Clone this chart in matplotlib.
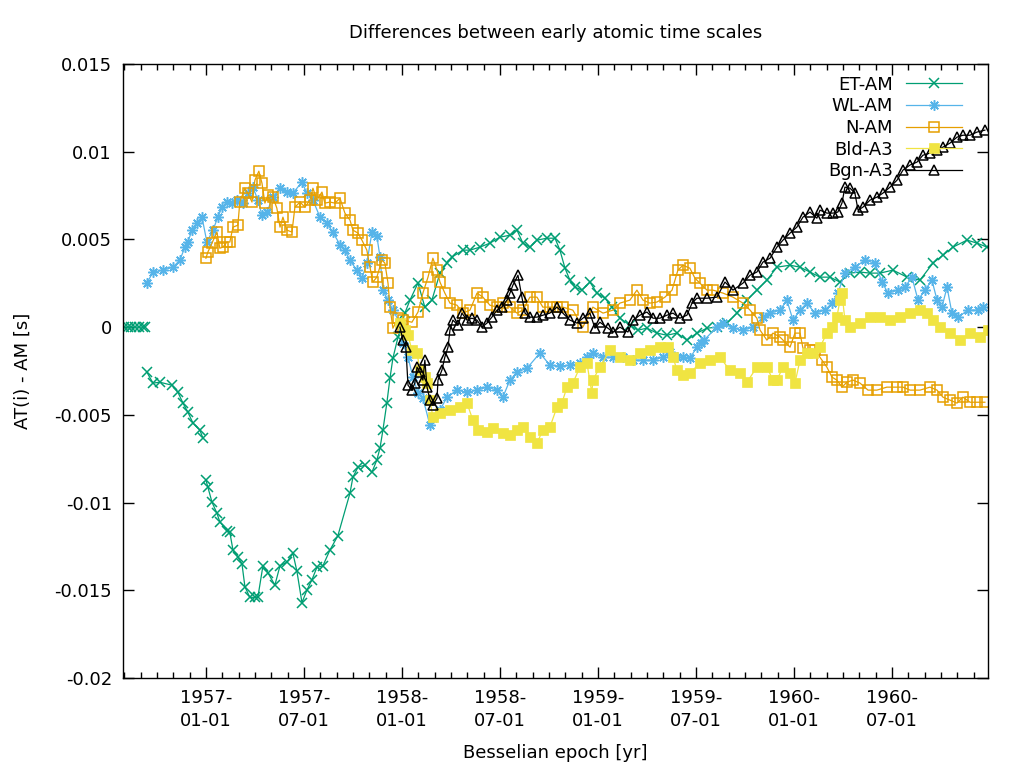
import numpy as np
import matplotlib
matplotlib.use("Agg")
import matplotlib.pyplot as plt
from matplotlib.ticker import MultipleLocator, FixedLocator

nan = np.nan

# ET-AM (gaps marked with nan)
et_year = [1956.58, 1956.60, 1956.62, 1956.64, 1956.66, 1956.68, 1956.69, nan,
           1956.699, 1956.730, 1956.765, 1956.827, 1956.857, 1956.883, 1956.908, 1956.934, 1956.969, 1956.985, nan,
           1957.000, 1957.010, 1957.031, 1957.056, 1957.071, 1957.107, 1957.122, 1957.138, 1957.163, 1957.184,
           1957.199, 1957.224, 1957.250, 1957.265, 1957.291, 1957.316, 1957.352, 1957.378, 1957.413, 1957.444,
           1957.464, 1957.490, 1957.515, 1957.541, 1957.566, 1957.597, 1957.633, 1957.673, 1957.735, 1957.750,
           1957.776, 1957.811, 1957.847, 1957.872, 1957.888, 1957.903, 1957.923, 1957.939, 1957.954, 1957.980,
           1958.015, 1958.041, 1958.082, 1958.117, 1958.153, 1958.194, 1958.230, 1958.255, 1958.311, 1958.347,
           1958.398, 1958.449, 1958.500, 1958.551, 1958.587, 1958.617, 1958.653, 1958.689, 1958.740, 1958.781,
           1958.806, 1958.832, 1958.857, 1958.883, 1958.918, 1958.959, 1958.995, 1959.036, 1959.071, 1959.112,
           1959.163, 1959.204, 1959.250, 1959.301, 1959.352, 1959.403, 1959.454, 1959.505, 1959.556, 1959.607,
           1959.658, 1959.709, 1959.760, 1959.811, 1959.862, 1959.913, 1959.980, 1960.031, 1960.082, 1960.133,
           1960.184, 1960.235, 1960.286, 1960.337, 1960.388, 1960.439, 1960.505, 1960.577, 1960.643, 1960.709,
           1960.760, 1960.811, 1960.883, 1960.934, 1960.985]
et_val = [0.0, 0.0, 0.0, 0.0, 0.0, 0.0, 0.0, nan,
          -0.00257, -0.00319, -0.00314, -0.00331, -0.00371, -0.00433, -0.00485, -0.00547, -0.00587, -0.00633, nan,
          -0.00872, -0.00912, -0.00998, -0.0106, -0.0111, -0.0116, -0.0117, -0.0127, -0.0131, -0.0135,
          -0.0148, -0.0154, -0.0154, -0.0154, -0.0136, -0.0140, -0.0147, -0.0136, -0.0134, -0.0129,
          -0.0139, -0.0157, -0.0150, -0.0144, -0.0137, -0.0136, -0.0127, -0.0119, -0.00946, -0.00855,
          -0.00798, -0.00787, -0.00827, -0.00758, -0.00690, -0.00587, -0.00433, -0.00291, -0.00177, -0.00057,
          0.00080, 0.00154, 0.00251, 0.00114, 0.00154, 0.00308, 0.00365, 0.00399, 0.00439, 0.00439,
          0.00456, 0.00479, 0.00513, 0.00524, 0.00553, 0.00479, 0.00456, 0.00496, 0.00507, 0.00507,
          0.00439, 0.00336, 0.00268, 0.00228, 0.00211, 0.00257, 0.00194, 0.00165, 0.00114, 0.00051,
          0.00011, -0.00017, -0.00006, -0.00034, -0.00046, -0.00034, -0.00074, -0.00034, -0.00006, 0.0,
          0.00023, 0.00080, 0.00154, 0.00211, 0.00268, 0.00342, 0.00353, 0.00342, 0.00314, 0.00285,
          0.00285, 0.00257, 0.00308, 0.00314, 0.00308, 0.00308, 0.00325, 0.00285, 0.00268, 0.00365,
          0.00410, 0.00456, 0.00496, 0.00479, 0.00456]

# WL-AM
wl_year = [1956.699, 1956.730, 1956.781, 1956.832, 1956.867, 1956.893, 1956.908, 1956.929, 1956.954, 1956.980,
           1957.005, 1957.036, 1957.061, 1957.082, 1957.107, 1957.133, 1957.158, 1957.189, 1957.214, 1957.240,
           1957.265, 1957.286, 1957.311, 1957.342, 1957.378, 1957.413, 1957.444, 1957.490, 1957.515, 1957.546,
           1957.582, 1957.617, 1957.648, 1957.684, 1957.709, 1957.735, 1957.770, 1957.796, 1957.821, 1957.847,
           1957.872, 1957.888, 1957.903, 1957.929, 1957.954, 1957.990, 1958.005, 1958.031, 1958.056, 1958.082,
           1958.107, 1958.143, 1958.158, 1958.194, 1958.230, 1958.281, 1958.332, 1958.383, 1958.434, 1958.485,
           1958.515, 1958.551, 1958.587, 1958.638, 1958.704, 1958.755, 1958.806, 1958.857, 1958.908, 1958.944,
           1958.974, 1959.026, 1959.077, 1959.128, 1959.179, 1959.230, 1959.281, 1959.332, 1959.367, 1959.403,
           1959.434, 1959.469, 1959.505, 1959.526, 1959.541, 1959.607, 1959.638, 1959.689, 1959.740, 1959.791,
           1959.842, 1959.878, 1959.929, 1959.964, 1959.995, 1960.031, 1960.066, 1960.107, 1960.158, 1960.194,
           1960.224, 1960.260, 1960.311, 1960.362, 1960.413, 1960.449, 1960.480, 1960.531, 1960.566, 1960.602,
           1960.633, 1960.668, 1960.704, 1960.730, 1960.755, 1960.781, 1960.806, 1960.837, 1960.888, 1960.939,
           1960.964]
wl_val = [0.00251, 0.00314, 0.00325, 0.00342, 0.00382, 0.00456, 0.00485, 0.00553, 0.00593, 0.00627,
          0.00485, 0.00553, 0.00627, 0.00684, 0.00713, 0.00707, 0.00724, 0.00707, 0.00764, 0.00798,
          0.00724, 0.00638, 0.00656, 0.00741, 0.00792, 0.00770, 0.00764, 0.00827, 0.00764, 0.00724,
          0.00627, 0.00593, 0.0054, 0.0047, 0.0044, 0.0038, 0.00325, 0.0028, 0.00365, 0.0054,
          0.0052, 0.0040, 0.0021, 0.00154, 0.00097, 0.00023, -0.00091, -0.00171, -0.00285, -0.00376,
          -0.00405, -0.00559, -0.0052, -0.00473, -0.00399, -0.00359, -0.00371, -0.00359, -0.00342, -0.00359,
          -0.00399, -0.00302, -0.00257, -0.00234, -0.00148, -0.00217, -0.00222, -0.00217, -0.00205, -0.00171,
          -0.00148, -0.00171, -0.00171, -0.00171, -0.00188, -0.00188, -0.00188, -0.00171, -0.00143, -0.00171,
          -0.00171, -0.00177, -0.00114, -0.00091, -0.00074, 0.0, 0.00023, -0.00006, -0.00017, 0.0,
          0.00057, 0.0008, 0.00097, 0.00154, 0.0004, 0.00097, 0.00137, 0.0008, 0.00097, 0.00137,
          0.00194, 0.00308, 0.00342, 0.00382, 0.00365, 0.00257, 0.00194, 0.00211, 0.00228, 0.00285,
          0.00154, 0.00211, 0.00268, 0.00154, 0.00114, 0.00228, 0.0008, 0.00057, 0.00097, 0.00097,
          0.00114]

# N-AM
n_year = [1957.000, 1957.010, 1957.031, 1957.056, 1957.071, 1957.087, 1957.107, 1957.122, 1957.138, 1957.163,
          1957.173, 1957.199, 1957.214, 1957.235, 1957.250, 1957.270, 1957.286, 1957.301, 1957.316, 1957.342,
          1957.362, 1957.378, 1957.393, 1957.413, 1957.439, 1957.454, 1957.480, 1957.505, 1957.531, 1957.546,
          1957.566, 1957.592, 1957.607, 1957.633, 1957.658, 1957.684, 1957.709, 1957.735, 1957.750, 1957.776,
          1957.796, 1957.821, 1957.837, 1957.852, 1957.872, 1957.898, 1957.913, 1957.929, 1957.939, 1957.954,
          1957.980, 1958.005, 1958.051, 1958.082, 1958.107, 1958.133, 1958.158, 1958.179, 1958.194, 1958.219,
          1958.245, 1958.281, 1958.311, 1958.347, 1958.383, 1958.413, 1958.449, 1958.485, 1958.515, 1958.551,
          1958.587, 1958.617, 1958.653, 1958.689, 1958.719, 1958.755, 1958.791, 1958.821, 1958.872, 1958.923,
          1958.974, 1959.026, 1959.077, 1959.112, 1959.163, 1959.199, 1959.230, 1959.265, 1959.301, 1959.342,
          1959.378, 1959.393, 1959.408, 1959.434, 1959.469, 1959.495, 1959.520, 1959.556, 1959.587, 1959.638,
          1959.689, 1959.740, 1959.776, 1959.811, 1959.827, 1959.862, 1959.893, 1959.929, 1959.944, 1959.980,
          1960.005, 1960.031, 1960.046, 1960.082, 1960.107, 1960.143, 1960.168, 1960.194, 1960.219, 1960.245,
          1960.270, 1960.301, 1960.337, 1960.378, 1960.423, 1960.474, 1960.526, 1960.556, 1960.592, 1960.643,
          1960.694, 1960.730, 1960.760, 1960.796, 1960.832, 1960.862, 1960.898, 1960.934, 1960.974]
n_val = [0.00393, 0.00428, 0.00479, 0.00542, 0.0045, 0.00456, 0.00485, 0.00485, 0.0057, 0.00581,
         0.00713, 0.00792, 0.00764, 0.00713, 0.00838, 0.00889, 0.00821, 0.00707, 0.00752, 0.00741,
         0.00678, 0.0057, 0.00627, 0.00553, 0.00542, 0.00684, 0.00713, 0.00684, 0.00724, 0.00792,
         0.00724, 0.0077, 0.00707, 0.00713, 0.00707, 0.00735, 0.0065, 0.0061, 0.00553, 0.00536,
         0.00496, 0.00439, 0.00342, 0.00257, 0.00285, 0.00382, 0.00365, 0.00251, 0.00114, -0.00006,
         0.00051, 0.0004, 0.00028, 0.00086, 0.00194, 0.00285, 0.00393, 0.00325, 0.00257, 0.00194,
         0.00137, 0.00125, 0.0008, 0.00097, 0.00194, 0.00171, 0.00125, 0.00114, 0.00137, 0.00114,
         0.0008, 0.00097, 0.00171, 0.00171, 0.00114, 0.00114, 0.00114, 0.00114, 0.00097, 0.0,
         0.00114, 0.0008, 0.00097, 0.00137, 0.00154, 0.00211, 0.00154, 0.00137, 0.00143, 0.00171,
         0.00211, 0.00268, 0.00325, 0.00353, 0.00336, 0.00279, 0.00251, 0.00211, 0.00211, 0.00194,
         0.00171, 0.00137, 0.00097, 0.00051, -0.00017, -0.00074, -0.00034, -0.00057, -0.00074, -0.00114,
         -0.00034, -0.00034, -0.0012, -0.00131, -0.00131, -0.00188, -0.00228, -0.00285, -0.00302, -0.00342,
         -0.00314, -0.00302, -0.00319, -0.00359, -0.00359, -0.00342, -0.00342, -0.00342, -0.00359, -0.00359,
         -0.00342, -0.00359, -0.00399, -0.00416, -0.00433, -0.00399, -0.00428, -0.00428, -0.00428]

# Bld-A3
bld_year = [1957.990, 1958.015, 1958.031, 1958.051, 1958.077, 1958.092, 1958.117, 1958.128, 1958.143, 1958.158,
            1958.194, 1958.245, 1958.296, 1958.332, 1958.362, 1958.388, 1958.434, 1958.464, 1958.515, 1958.551,
            1958.587, 1958.617, 1958.653, 1958.689, 1958.719, 1958.755, 1958.791, 1958.816, 1958.842, 1958.872,
            1958.908, 1958.944, 1958.969, 1958.974, 1959.010, 1959.061, 1959.112, 1959.163, 1959.214, 1959.265,
            1959.316, 1959.357, 1959.383, 1959.403, 1959.434, 1959.469, 1959.520, 1959.571, 1959.622, 1959.673,
            1959.724, 1959.760, 1959.811, 1959.862, 1959.893, 1959.913, 1959.944, 1959.980, 1960.005, 1960.031,
            1960.066, 1960.097, 1960.133, 1960.168, 1960.194, 1960.219, 1960.235, 1960.245, 1960.260, 1960.286,
            1960.337, 1960.388, 1960.439, 1960.490, 1960.541, 1960.592, 1960.643, 1960.679, 1960.709, 1960.745,
            1960.796, 1960.847, 1960.898, 1960.949, 1960.990]
bld_val = [0.00023, -0.00017, -0.00046, -0.00131, -0.00148, -0.00245, -0.00285, -0.00319, -0.00416, -0.00513,
           -0.0049, -0.00473, -0.00456, -0.00433, -0.0053, -0.00587, -0.00599, -0.00576, -0.00604, -0.00616,
           -0.00587, -0.0057, -0.00627, -0.00661, -0.00587, -0.0057, -0.00456, -0.00433, -0.00342, -0.00319,
           -0.00228, -0.00205, -0.00376, -0.00302, -0.00228, -0.00131, -0.00171, -0.00188, -0.00148, -0.00131,
           -0.00114, -0.00114, -0.00171, -0.00245, -0.00274, -0.00262, -0.00205, -0.00188, -0.00171, -0.00245,
           -0.00262, -0.00314, -0.00228, -0.00228, -0.00302, -0.00302, -0.00228, -0.00262, -0.00319, -0.00188,
           -0.00148, -0.00148, -0.00114, -0.00034, 0.0, 0.00057, 0.00154, 0.00194, 0.0004, 0.0,
           0.00023, 0.00057, 0.00057, 0.0004, 0.00057, 0.0008, 0.00097, 0.0008, 0.0004, 0.0,
           -0.00034, -0.00074, -0.00034, -0.00057, -0.00017]

# Bgn-A3
bgn_year = [1957.990, 1958.005, 1958.020, 1958.031, 1958.051, 1958.066, 1958.077, 1958.092, 1958.107, 1958.117,
            1958.128, 1958.143, 1958.158, 1958.179, 1958.184, 1958.204, 1958.219, 1958.235, 1958.245, 1958.260,
            1958.286, 1958.306, 1958.332, 1958.357, 1958.383, 1958.408, 1958.434, 1958.459, 1958.485, 1958.510,
            1958.536, 1958.551, 1958.566, 1958.592, 1958.612, 1958.628, 1958.653, 1958.689, 1958.719, 1958.755,
            1958.791, 1958.821, 1958.857, 1958.893, 1958.923, 1958.959, 1958.985, 1959.010, 1959.051, 1959.077,
            1959.112, 1959.153, 1959.179, 1959.214, 1959.250, 1959.281, 1959.316, 1959.352, 1959.383, 1959.418,
            1959.454, 1959.480, 1959.505, 1959.556, 1959.607, 1959.648, 1959.689, 1959.740, 1959.776, 1959.811,
            1959.842, 1959.878, 1959.913, 1959.944, 1959.980, 1960.015, 1960.046, 1960.082, 1960.117, 1960.133,
            1960.168, 1960.199, 1960.224, 1960.245, 1960.260, 1960.286, 1960.311, 1960.327, 1960.352, 1960.388,
            1960.423, 1960.454, 1960.490, 1960.526, 1960.556, 1960.592, 1960.628, 1960.658, 1960.694, 1960.730,
            1960.760, 1960.796, 1960.832, 1960.862, 1960.898, 1960.934, 1960.974]
bgn_val = [0.0, -0.00074, -0.00114, -0.00331, -0.00359, -0.00319, -0.00228, -0.00257, -0.00302, -0.00188,
           -0.00342, -0.00416, -0.00445, -0.00405, -0.00302, -0.00245, -0.00171, -0.00114, -0.00017, 0.0004,
           0.00011, 0.0008, 0.0004, 0.00051, 0.0004, 0.0, 0.00023, 0.00057, 0.00097, 0.00114,
           0.00154, 0.00194, 0.00239, 0.00296, 0.00171, 0.0008, 0.00057, 0.00057, 0.00068, 0.0008,
           0.00114, 0.0008, 0.0004, 0.00023, 0.00051, 0.0008, -0.00006, 0.00028, -0.00006, -0.00028,
           0.0, -0.00028, 0.0004, 0.00068, 0.00086, 0.00051, 0.00051, 0.00068, 0.0008, 0.00051,
           0.00068, 0.00137, 0.00165, 0.00165, 0.00171, 0.00257, 0.00211, 0.00251, 0.00296, 0.00314,
           0.00371, 0.00393, 0.00456, 0.00496, 0.00536, 0.0057, 0.00627, 0.00656, 0.00621, 0.00667,
           0.0065, 0.0065, 0.00656, 0.00707, 0.00798, 0.00792, 0.00764, 0.00667, 0.00684, 0.00724,
           0.00741, 0.00764, 0.00798, 0.00838, 0.00895, 0.00924, 0.00941, 0.0098, 0.00992, 0.0101,
           0.01026, 0.01049, 0.01083, 0.01094, 0.01094, 0.01112, 0.01123]

tick_years = [1957.0, 1957.5, 1958.0, 1958.5, 1959.0, 1959.5, 1960.0, 1960.5]
tick_labels = ["1957-\n01-01", "1957-\n07-01", "1958-\n01-01", "1958-\n07-01",
               "1959-\n01-01", "1959-\n07-01", "1960-\n01-01", "1960-\n07-01"]
y_ticks = [-0.02, -0.015, -0.01, -0.005, 0.0, 0.005, 0.01, 0.015]
y_labels = ["-0.02", "-0.015", "-0.01", "-0.005", "0", "0.005", "0.01", "0.015"]

plt.rcParams['font.family'] = 'DejaVu Sans'
fs = 13

fig = plt.figure(figsize=(10.24, 7.68), dpi=100)
ax = fig.add_axes([123/1024, 1 - 678/768, (988 - 123)/1024, (678 - 64)/768])

lw = 0.9
ax.plot(et_year, et_val, color='#009e73', lw=lw, marker='x', ms=6.5, mew=1.1, label='ET-AM')
ax.plot(wl_year, wl_val, color='#56b4e9', lw=lw, marker=(8, 2, 0), ms=7.5, mew=1.1, label='WL-AM')
ax.plot(n_year, n_val, color='#e69f00', lw=lw, marker='s', ms=6.5, mew=1.1, mfc='none', label='N-AM')
ax.plot(bld_year, bld_val, color='#f0e442', lw=lw, marker='s', ms=7, mew=0.5, label='Bld-A3')
ax.plot(bgn_year, bgn_val, color='black', lw=lw, marker='^', ms=7, mew=1.1, mfc='none', label='Bgn-A3')

ax.set_xlim(1956.577, 1960.99)
ax.set_ylim(-0.02, 0.015)
ax.xaxis.set_major_locator(FixedLocator(tick_years))
ax.set_xticklabels(tick_labels)
for t in ax.get_xticklabels():
    t.set_linespacing(1.35)
ax.xaxis.set_minor_locator(MultipleLocator(1/12))
ax.yaxis.set_major_locator(FixedLocator(y_ticks))
ax.set_yticklabels(y_labels)

ax.tick_params(which='major', direction='in', length=8, width=1, top=True, right=True,
               labelsize=fs, pad=8)
ax.tick_params(which='minor', direction='in', length=4, width=1, top=True, right=False, left=False)
for s in ax.spines.values():
    s.set_linewidth(1.0)

ax.set_title('Differences between early atomic time scales', fontsize=fs, pad=19)
ax.set_xlabel('Besselian epoch [yr]', fontsize=fs, labelpad=10)
ax.set_ylabel('AT(i) - AM [s]', fontsize=fs, labelpad=16)

leg = ax.legend(loc='upper right', bbox_to_anchor=(0.984, 1.0), frameon=False, markerfirst=False,
                numpoints=1, fontsize=fs, handlelength=3.1, handletextpad=0.75, labelspacing=0.2,
                borderaxespad=0.25)
leg._legend_handle_box.get_children()[0].align = 'right'

fig.savefig('out.png', dpi=100)
